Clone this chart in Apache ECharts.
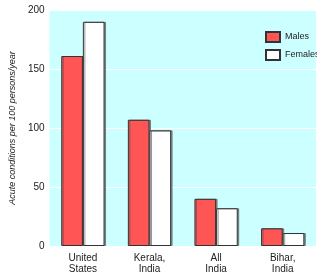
<!DOCTYPE html>
<html><head><meta charset="utf-8">
<script src="https://cdn.jsdelivr.net/npm/echarts@6/dist/echarts.min.js"></script>
<style>html,body{margin:0;padding:0;background:#fff}#c{width:317px;height:275px}</style>
</head><body><div id="c"></div>
<script>
const categories = ['United\nStates', 'Kerala,\nIndia', 'All\nIndia', 'Bihar,\nIndia'];
const males = [161, 107, 40, 15];
const females = [190, 98, 32, 11];
const yTicks = [0, 50, 100, 150, 200];
const seriesNames = ['Males', 'Females'];
const yTitle = 'Acute conditions per 100 persons/year';

const FONT = '"Liberation Sans Narrow", "Arial Narrow", "Liberation Sans", Arial, sans-serif';
const chart = echarts.init(document.getElementById('c'), null, {renderer: 'canvas'});
const barStyle = (color) => ({
  color: color, borderColor: '#333', borderWidth: 1,
  shadowColor: 'rgba(80,80,80,0.6)', shadowOffsetX: 1.5, shadowOffsetY: 0, shadowBlur: 0
});
chart.setOption({
  animation: false,
  textStyle: {fontFamily: FONT},
  grid: {left: 44, right: 1, top: 10, bottom: 29, backgroundColor: '#ccffff', show: true, borderWidth: 0},
  legend: {
    data: seriesNames, orient: 'vertical', left: 260, top: 26, itemWidth: 14, itemHeight: 10, itemGap: 6,
    textStyle: {fontFamily: FONT, fontSize: 9, color: '#222'}, icon: 'rect'
  },
  xAxis: {
    type: 'category', data: categories,
    axisLine: {show: false}, axisTick: {show: false},
    axisLabel: {fontFamily: FONT, fontSize: 10, color: '#222', margin: 7, lineHeight: 11}
  },
  yAxis: {
    type: 'value', min: yTicks[0], max: yTicks[yTicks.length - 1], interval: 50,
    name: yTitle, nameLocation: 'middle', nameGap: 30,
    nameTextStyle: {fontFamily: FONT, fontSize: 9, fontStyle: 'italic', color: '#222'},
    axisLine: {show: false}, axisTick: {show: false},
    axisLabel: {fontFamily: FONT, fontSize: 10, color: '#222', margin: 5},
    splitLine: {lineStyle: {color: '#ffffff', width: 1}}
  },
  series: [
    {name: seriesNames[0], type: 'bar', data: males, barGap: '0%', barCategoryGap: '35%', itemStyle: barStyle('#ff5555')},
    {name: seriesNames[1], type: 'bar', data: females, itemStyle: barStyle('#ffffff')}
  ]
});
</script></body></html>
